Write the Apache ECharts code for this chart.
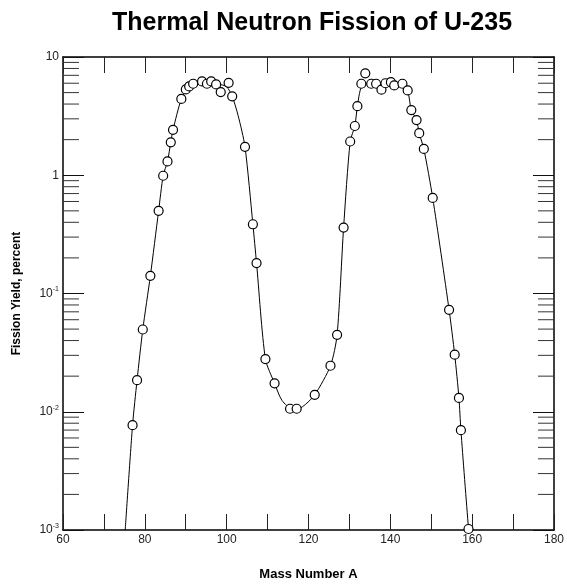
<!DOCTYPE html>
<html><head><meta charset="utf-8">
<script src="https://cdn.jsdelivr.net/npm/echarts@6/dist/echarts.min.js"></script>
<style>html,body{margin:0;padding:0;background:#fff}#c{width:567px;height:586px}</style>
</head><body><div id="c"></div>
<script>
// Measured data points (mass number, fission yield %)
const pointMass = [77.0, 78.1, 79.5, 81.35, 83.37, 84.48, 85.54, 86.34, 86.89, 88.92,
  90.02, 90.84, 91.81, 93.98, 95.18, 96.22, 97.42, 98.55, 100.48, 101.35,
  104.48, 106.41, 107.30, 109.47, 111.71, 115.49, 117.11, 121.52, 125.37, 126.99,
  128.58, 130.19, 131.33, 131.95, 132.92, 133.88, 135.33, 136.53, 137.83, 138.80,
  140.14, 140.96, 142.96, 144.24, 145.13, 146.41, 147.06, 148.19, 150.36, 154.36,
  155.73, 156.77, 157.25, 159.11];
const pointYield = [0.0077, 0.0185, 0.0496, 0.141, 0.50, 0.99, 1.31, 1.90, 2.42, 4.42,
  5.32, 5.64, 5.94, 6.21, 5.94, 6.21, 5.86, 5.05, 6.05, 4.65,
  1.74, 0.385, 0.181, 0.0279, 0.0174, 0.0106, 0.0106, 0.0139, 0.0245, 0.0447,
  0.361, 1.93, 2.61, 3.84, 5.94, 7.28, 5.94, 5.94, 5.29, 6.0,
  6.13, 5.75, 5.94, 5.22, 3.56, 2.93, 2.27, 1.67, 0.643, 0.0728,
  0.0304, 0.0131, 0.00698, 0.00102];

// Fitted curve
const curveMass = [75.2, 77.0, 78.1, 79.5, 81.35, 83.37, 84.48, 85.54, 86.34, 86.89, 88.92,
  90.5, 92.5, 95.0, 98.0, 100.0, 101.35, 102.8, 104.48, 106.41, 107.30, 109.47, 111.71,
  113.5, 116.3, 118.5, 121.52, 125.37, 126.99, 128.58, 130.19, 131.33, 131.95, 132.92,
  134.5, 137.0, 140.0, 143.0, 144.24, 145.13, 146.41, 147.06, 148.19, 150.36, 154.36,
  155.73, 156.77, 157.25, 159.11, 159.3];
const curveYield = [0.001, 0.0077, 0.0185, 0.0496, 0.141, 0.50, 0.99, 1.31, 1.90, 2.42, 4.42,
  5.4, 5.9, 6.1, 5.9, 5.6, 4.65, 3.2, 1.74, 0.385, 0.181, 0.0279, 0.0174,
  0.0125, 0.0104, 0.011, 0.0139, 0.0245, 0.0447, 0.361, 1.93, 2.61, 3.84, 5.6,
  6.0, 5.9, 6.0, 5.8, 5.22, 3.56, 2.93, 2.27, 1.67, 0.643, 0.0728,
  0.0304, 0.0131, 0.00698, 0.00102, 0.0009];

const xTickLabels = [60, 80, 100, 120, 140, 160, 180];
const yTickValues = [0.001, 0.01, 0.1, 1, 10];
const yTickTexts = ['10{s|-3}', '10{s|-2}', '10{s|-1}', '1', '10'];
const minorFactors = [2, 3, 4, 5, 6, 7, 8, 9];
const decades = [0.001, 0.01, 0.1, 1];

const FONT = 'Liberation Sans, Arial, Helvetica, sans-serif';
const minorTicks = [];
decades.forEach(d => minorFactors.forEach(f => minorTicks.push([60, +(d * f).toPrecision(3)])));

const chart = echarts.init(document.getElementById('c'), null, {renderer: 'canvas'});
const yLabel = {
  fontFamily: FONT, fontSize: 12, color: '#222', margin: 4, lineHeight: 15,
  formatter: v => {
    const i = yTickValues.findIndex(t => Math.abs(Math.log10(t) - Math.log10(v)) < 1e-6);
    return i >= 0 ? yTickTexts[i] : '';
  },
  rich: { s: { fontSize: 7, verticalAlign: 'top', lineHeight: 7, fontFamily: FONT, color: '#222' } }
};
chart.setOption({
  animation: false,
  backgroundColor: '#fff',
  title: {
    text: 'Thermal Neutron Fission of U-235', left: 107, top: 6,
    textStyle: { fontFamily: FONT, fontSize: 25, fontWeight: 'bold', color: '#000' }
  },
  grid: { left: 63, top: 57, right: 7, bottom: 50 },
  xAxis: [{
    type: 'value', min: 60, max: 180, interval: 10, position: 'bottom',
    name: 'Mass Number A', nameLocation: 'middle', nameGap: 38,
    nameTextStyle: { fontFamily: FONT, fontSize: 13, fontWeight: 'bold', color: '#000' },
    axisLine: { lineStyle: { color: '#000', width: 1.5 } },
    axisTick: { inside: true, length: 16, lineStyle: { color: '#222', width: 1 } },
    axisLabel: { fontFamily: FONT, fontSize: 12, color: '#222', margin: 4,
      formatter: v => xTickLabels.includes(v) ? String(v) : '' },
    splitLine: { show: false }
  }, {
    type: 'value', min: 60, max: 180, interval: 10, position: 'top',
    axisLine: { lineStyle: { color: '#000', width: 1.5 } },
    axisTick: { inside: true, length: 16, lineStyle: { color: '#222', width: 1 } },
    axisLabel: { show: false }, splitLine: { show: false }
  }],
  yAxis: [{
    type: 'log', logBase: 10, min: 0.001, max: 10, position: 'left',
    name: 'Fission Yield, percent', nameLocation: 'middle', nameGap: 40,
    nameTextStyle: { fontFamily: FONT, fontSize: 12, fontWeight: 'bold', color: '#000' },
    axisLine: { lineStyle: { color: '#000', width: 1.5 } },
    axisTick: { inside: true, length: 21, lineStyle: { color: '#111', width: 1 } },
    axisLabel: yLabel, splitLine: { show: false }, minorTick: { show: false }
  }, {
    type: 'log', logBase: 10, min: 0.001, max: 10, position: 'right',
    axisLine: { lineStyle: { color: '#000', width: 1.5 } },
    axisTick: { inside: true, length: 21, lineStyle: { color: '#111', width: 1 } },
    axisLabel: { show: false }, splitLine: { show: false }
  }],
  series: [{
    type: 'custom', xAxisIndex: 0, yAxisIndex: 0, silent: true, z: 1,
    data: minorTicks,
    renderItem: (params, api) => {
      const y = api.coord([api.value(0), api.value(1)])[1];
      const cs = params.coordSys;
      return { type: 'group', children: [
        { type: 'line', shape: { x1: cs.x, y1: y, x2: cs.x + 16, y2: y }, style: { stroke: '#333', lineWidth: 1 } },
        { type: 'line', shape: { x1: cs.x + cs.width - 16, y1: y, x2: cs.x + cs.width, y2: y }, style: { stroke: '#333', lineWidth: 1 } }
      ]};
    }
  }, {
    type: 'line', xAxisIndex: 0, yAxisIndex: 0, z: 2,
    data: curveMass.map((m, i) => [m, curveYield[i]]),
    smooth: 0.25, showSymbol: false, clip: true,
    lineStyle: { color: '#000', width: 1 }
  }, {
    type: 'scatter', xAxisIndex: 0, yAxisIndex: 0, z: 3,
    data: pointMass.map((m, i) => [m, pointYield[i]]),
    symbol: 'circle', symbolSize: 9,
    itemStyle: { color: '#fff', borderColor: '#000', borderWidth: 1.2, opacity: 1 }
  }]
});
</script>
</body></html>
